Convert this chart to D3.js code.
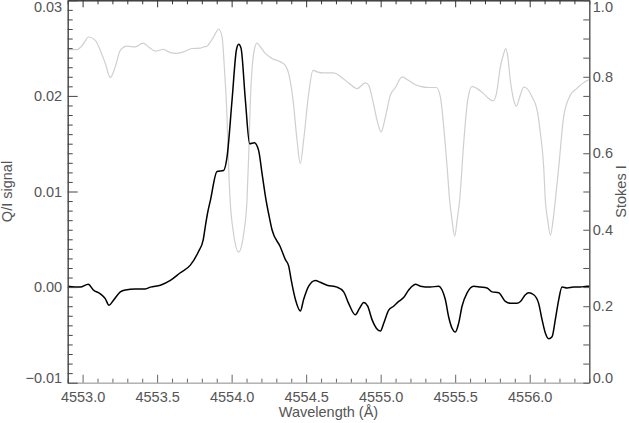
<!DOCTYPE html>
<html>
<head>
<meta charset="utf-8">
<script src="https://cdn.jsdelivr.net/npm/d3@7"></script>
<style>
  html, body { margin: 0; padding: 0; background: #fff; }
  svg { display: block; }
  text { font-family: "Liberation Sans", Arial, sans-serif; }
</style>
</head>
<body>
<svg id="chart" width="629" height="423"></svg>
<script>
// ---- data ----
const qWavelength = [4552.902,4552.985,4553.038,4553.072,4553.119,4553.152,4553.177,4553.206,4553.253,4553.287,4553.354,4553.421,4553.455,4553.522,4553.589,4553.656,4553.723,4553.777,4553.810,4553.823,4553.838,4553.858,4553.902,4553.946,4553.969,4554.003,4554.032,4554.047,4554.063,4554.092,4554.121,4554.152,4554.181,4554.204,4554.231,4554.248,4554.271,4554.327,4554.360,4554.383,4554.399,4554.428,4554.461,4554.483,4554.517,4554.562,4554.595,4554.640,4554.707,4554.752,4554.785,4554.830,4554.859,4554.886,4554.913,4554.942,4554.971,4554.998,4555.020,4555.054,4555.087,4555.121,4555.154,4555.188,4555.221,4555.233,4555.266,4555.333,4555.389,4555.412,4555.434,4555.456,4555.479,4555.501,4555.523,4555.546,4555.580,4555.624,4555.669,4555.714,4555.748,4555.792,4555.837,4555.870,4555.915,4555.938,4555.971,4555.993,4556.027,4556.060,4556.083,4556.105,4556.128,4556.150,4556.172,4556.195,4556.217,4556.251,4556.295,4556.340,4556.385,4556.403];
const qSignal = [0.0001,0.0000,0.0003,-0.0003,-0.0007,-0.0012,-0.0019,-0.0014,-0.0005,-0.0003,-0.0002,-0.0002,0.0000,0.0002,0.0007,0.0015,0.0023,0.0037,0.0050,0.0063,0.0077,0.0091,0.0121,0.0122,0.0136,0.0196,0.0248,0.0254,0.0250,0.0196,0.0150,0.0151,0.0143,0.0119,0.0091,0.0077,0.0060,0.0042,0.0029,0.0022,0.0008,-0.0013,-0.0025,-0.0013,0.0001,0.0007,0.0005,0.0002,0.0000,-0.0005,-0.0017,-0.0029,-0.0022,-0.0016,-0.0020,-0.0034,-0.0043,-0.0046,-0.0038,-0.0024,-0.0020,-0.0015,-0.0011,-0.0003,0.0002,0.0003,0.0001,0.0000,0.0001,-0.0003,-0.0013,-0.0031,-0.0043,-0.0047,-0.0038,-0.0020,-0.0006,0.0001,0.0000,-0.0001,-0.0005,-0.0006,-0.0015,-0.0017,-0.0017,-0.0015,-0.0008,-0.0006,-0.0008,-0.0017,-0.0034,-0.0048,-0.0054,-0.0052,-0.0034,-0.0013,0.0000,-0.0001,0.0000,0.0000,0.0001,0.0001];

const iWavelength = [4552.902,4552.962,4553.007,4553.040,4553.085,4553.119,4553.152,4553.186,4553.219,4553.253,4553.298,4553.354,4553.405,4553.443,4553.488,4553.544,4553.566,4553.622,4553.678,4553.734,4553.790,4553.812,4553.835,4553.857,4553.879,4553.891,4553.913,4553.936,4553.951,4553.969,4553.980,4553.990,4554.013,4554.047,4554.081,4554.103,4554.115,4554.126,4554.148,4554.170,4554.193,4554.226,4554.271,4554.327,4554.360,4554.383,4554.412,4554.439,4554.461,4554.483,4554.517,4554.546,4554.573,4554.617,4554.684,4554.730,4554.785,4554.842,4554.897,4554.919,4554.942,4554.976,4555.003,4555.032,4555.065,4555.099,4555.144,4555.177,4555.221,4555.266,4555.322,4555.374,4555.401,4555.423,4555.446,4555.463,4555.479,4555.497,4555.513,4555.530,4555.557,4555.584,4555.613,4555.647,4555.691,4555.725,4555.754,4555.777,4555.803,4555.826,4555.839,4555.852,4555.870,4555.893,4555.911,4555.933,4555.960,4555.983,4556.016,4556.050,4556.072,4556.094,4556.105,4556.121,4556.139,4556.157,4556.172,4556.195,4556.228,4556.273,4556.315,4556.371,4556.403];
const stokesI = [0.871,0.871,0.887,0.904,0.895,0.869,0.835,0.798,0.826,0.869,0.880,0.878,0.888,0.878,0.867,0.872,0.867,0.861,0.865,0.874,0.875,0.878,0.880,0.891,0.904,0.913,0.925,0.904,0.826,0.695,0.560,0.477,0.390,0.342,0.390,0.477,0.600,0.739,0.861,0.888,0.878,0.861,0.848,0.839,0.830,0.808,0.739,0.634,0.573,0.634,0.756,0.817,0.813,0.810,0.810,0.801,0.784,0.769,0.784,0.778,0.747,0.686,0.656,0.695,0.752,0.772,0.800,0.793,0.782,0.775,0.772,0.772,0.747,0.669,0.564,0.477,0.425,0.383,0.425,0.477,0.626,0.739,0.775,0.769,0.756,0.743,0.737,0.756,0.826,0.861,0.874,0.856,0.791,0.739,0.723,0.747,0.773,0.769,0.747,0.713,0.652,0.564,0.477,0.425,0.386,0.425,0.477,0.564,0.695,0.752,0.769,0.787,0.793];

const xMajorTicks = [4553.0,4553.5,4554.0,4554.5,4555.0,4555.5,4556.0];
const yLeftTicks = [-0.01,0.00,0.01,0.02,0.03];
const yRightTicks = [0.0,0.2,0.4,0.6,0.8,1.0];

// ---- layout ----
const L = 67.7, R = 589.3, T = 0.3, B = 382.7;
const svg = d3.select("#chart");

const x = d3.scaleLinear().domain([4552.9, 4556.4]).range([L, R]);
const yL = d3.scaleLinear().domain([-0.01, 0.03]).range([B, T]);
const yR = d3.scaleLinear().domain([0, 1]).range([B, T]);

const xMinor = d3.range(4552.9, 4556.401, 0.1).map(v => +v.toFixed(1)).filter(v => !xMajorTicks.includes(v));
const yLMinor = d3.range(-0.01, 0.0301, 0.001).map(v => +v.toFixed(3)).filter(v => !yLeftTicks.some(t => Math.abs(t - v) < 1e-9));
const yRMinor = d3.range(0, 1.0001, 0.05).map(v => +v.toFixed(2)).filter(v => !yRightTicks.some(t => Math.abs(t - v) < 1e-9));

const fontSize = 14.5;
const textColor = "#555";

// ---- curves ----
const iData = iWavelength.map((w, i) => [w, stokesI[i]]);
const qData = qWavelength.map((w, i) => [w, qSignal[i]]);

svg.append("path")
  .datum(iData)
  .attr("fill", "none")
  .attr("stroke", "#cfcfcf")
  .attr("stroke-width", 1.2)
  .attr("d", d3.line().x(d => x(d[0])).y(d => yR(d[1])).curve(d3.curveMonotoneX));

svg.append("path")
  .datum(qData)
  .attr("fill", "none")
  .attr("stroke", "#000")
  .attr("stroke-width", 1.5)
  .attr("stroke-linejoin", "round")
  .attr("d", d3.line().x(d => x(d[0])).y(d => yL(d[1])).curve(d3.curveMonotoneX));

// ---- axes ----
function styleAxis(g, color) {
  g.select(".domain").attr("stroke", color);
  g.selectAll(".tick line").attr("stroke", color);
  g.selectAll("text").attr("fill", textColor).attr("font-size", fontSize)
    .attr("font-family", "Liberation Sans, Arial, sans-serif");
}

// bottom
const gBottom = svg.append("g").attr("transform", `translate(0,${B})`);
gBottom.call(d3.axisBottom(x).tickValues(xMinor).tickSize(-4).tickSizeOuter(0).tickFormat(""));
styleAxis(gBottom, "#666");
const gBottomMaj = svg.append("g").attr("transform", `translate(0,${B})`);
gBottomMaj.call(d3.axisBottom(x).tickValues(xMajorTicks).tickSize(-8).tickSizeOuter(0).tickPadding(9).tickFormat(d3.format(".1f")));
styleAxis(gBottomMaj, "#666");
gBottomMaj.select(".domain").attr("stroke", "#adadad");
gBottom.select(".domain").attr("stroke", "#adadad");

// top
const gTop = svg.append("g").attr("transform", `translate(0,${T})`);
gTop.call(d3.axisTop(x).tickValues(xMinor).tickSize(-4).tickSizeOuter(0).tickFormat(""));
styleAxis(gTop, "#333");
const gTopMaj = svg.append("g").attr("transform", `translate(0,${T})`);
gTopMaj.call(d3.axisTop(x).tickValues(xMajorTicks).tickSize(-7).tickSizeOuter(0).tickFormat(""));
styleAxis(gTopMaj, "#333");

// left
const gLeft = svg.append("g").attr("transform", `translate(${L},0)`);
gLeft.call(d3.axisLeft(yL).tickValues(yLMinor).tickSize(-5).tickSizeOuter(0).tickFormat(""));
styleAxis(gLeft, "#444");
const gLeftMaj = svg.append("g").attr("transform", `translate(${L},0)`);
gLeftMaj.call(d3.axisLeft(yL).tickValues(yLeftTicks).tickSize(-10).tickSizeOuter(0).tickPadding(5.5)
  .tickFormat(d => (d < 0 ? "\u2212" : "") + d3.format(".2f")(Math.abs(d))));
styleAxis(gLeftMaj, "#444");
gLeftMaj.selectAll("text").attr("y", d => Math.min(Math.max(yL(d), 7), 378) - yL(d));

// right
const gRight = svg.append("g").attr("transform", `translate(${R},0)`);
gRight.call(d3.axisRight(yR).tickValues(yRMinor).tickSize(-6).tickSizeOuter(0).tickFormat(""));
styleAxis(gRight, "#555");
const gRightMaj = svg.append("g").attr("transform", `translate(${R},0)`);
gRightMaj.call(d3.axisRight(yR).tickValues(yRightTicks).tickSize(-6).tickSizeOuter(0).tickPadding(3.5).tickFormat(d3.format(".1f")));
styleAxis(gRightMaj, "#555");
gRightMaj.selectAll("text").attr("x", 3.5).attr("y", d => Math.min(Math.max(yR(d), 7), 378) - yR(d));

// ---- titles ----
svg.append("text")
  .attr("x", (L + R) / 2).attr("y", 416.5)
  .attr("text-anchor", "middle")
  .attr("font-size", fontSize).attr("fill", textColor)
  .text("Wavelength (\u00C5)");

svg.append("text")
  .attr("transform", `translate(12,${(T + B) / 2}) rotate(-90)`)
  .attr("text-anchor", "middle")
  .attr("font-size", fontSize).attr("fill", textColor)
  .text("Q/I signal");

svg.append("text")
  .attr("transform", `translate(625.5,${(T + B) / 2}) rotate(-90)`)
  .attr("text-anchor", "middle")
  .attr("font-size", fontSize).attr("fill", textColor)
  .text("Stokes I");
</script>
</body>
</html>
